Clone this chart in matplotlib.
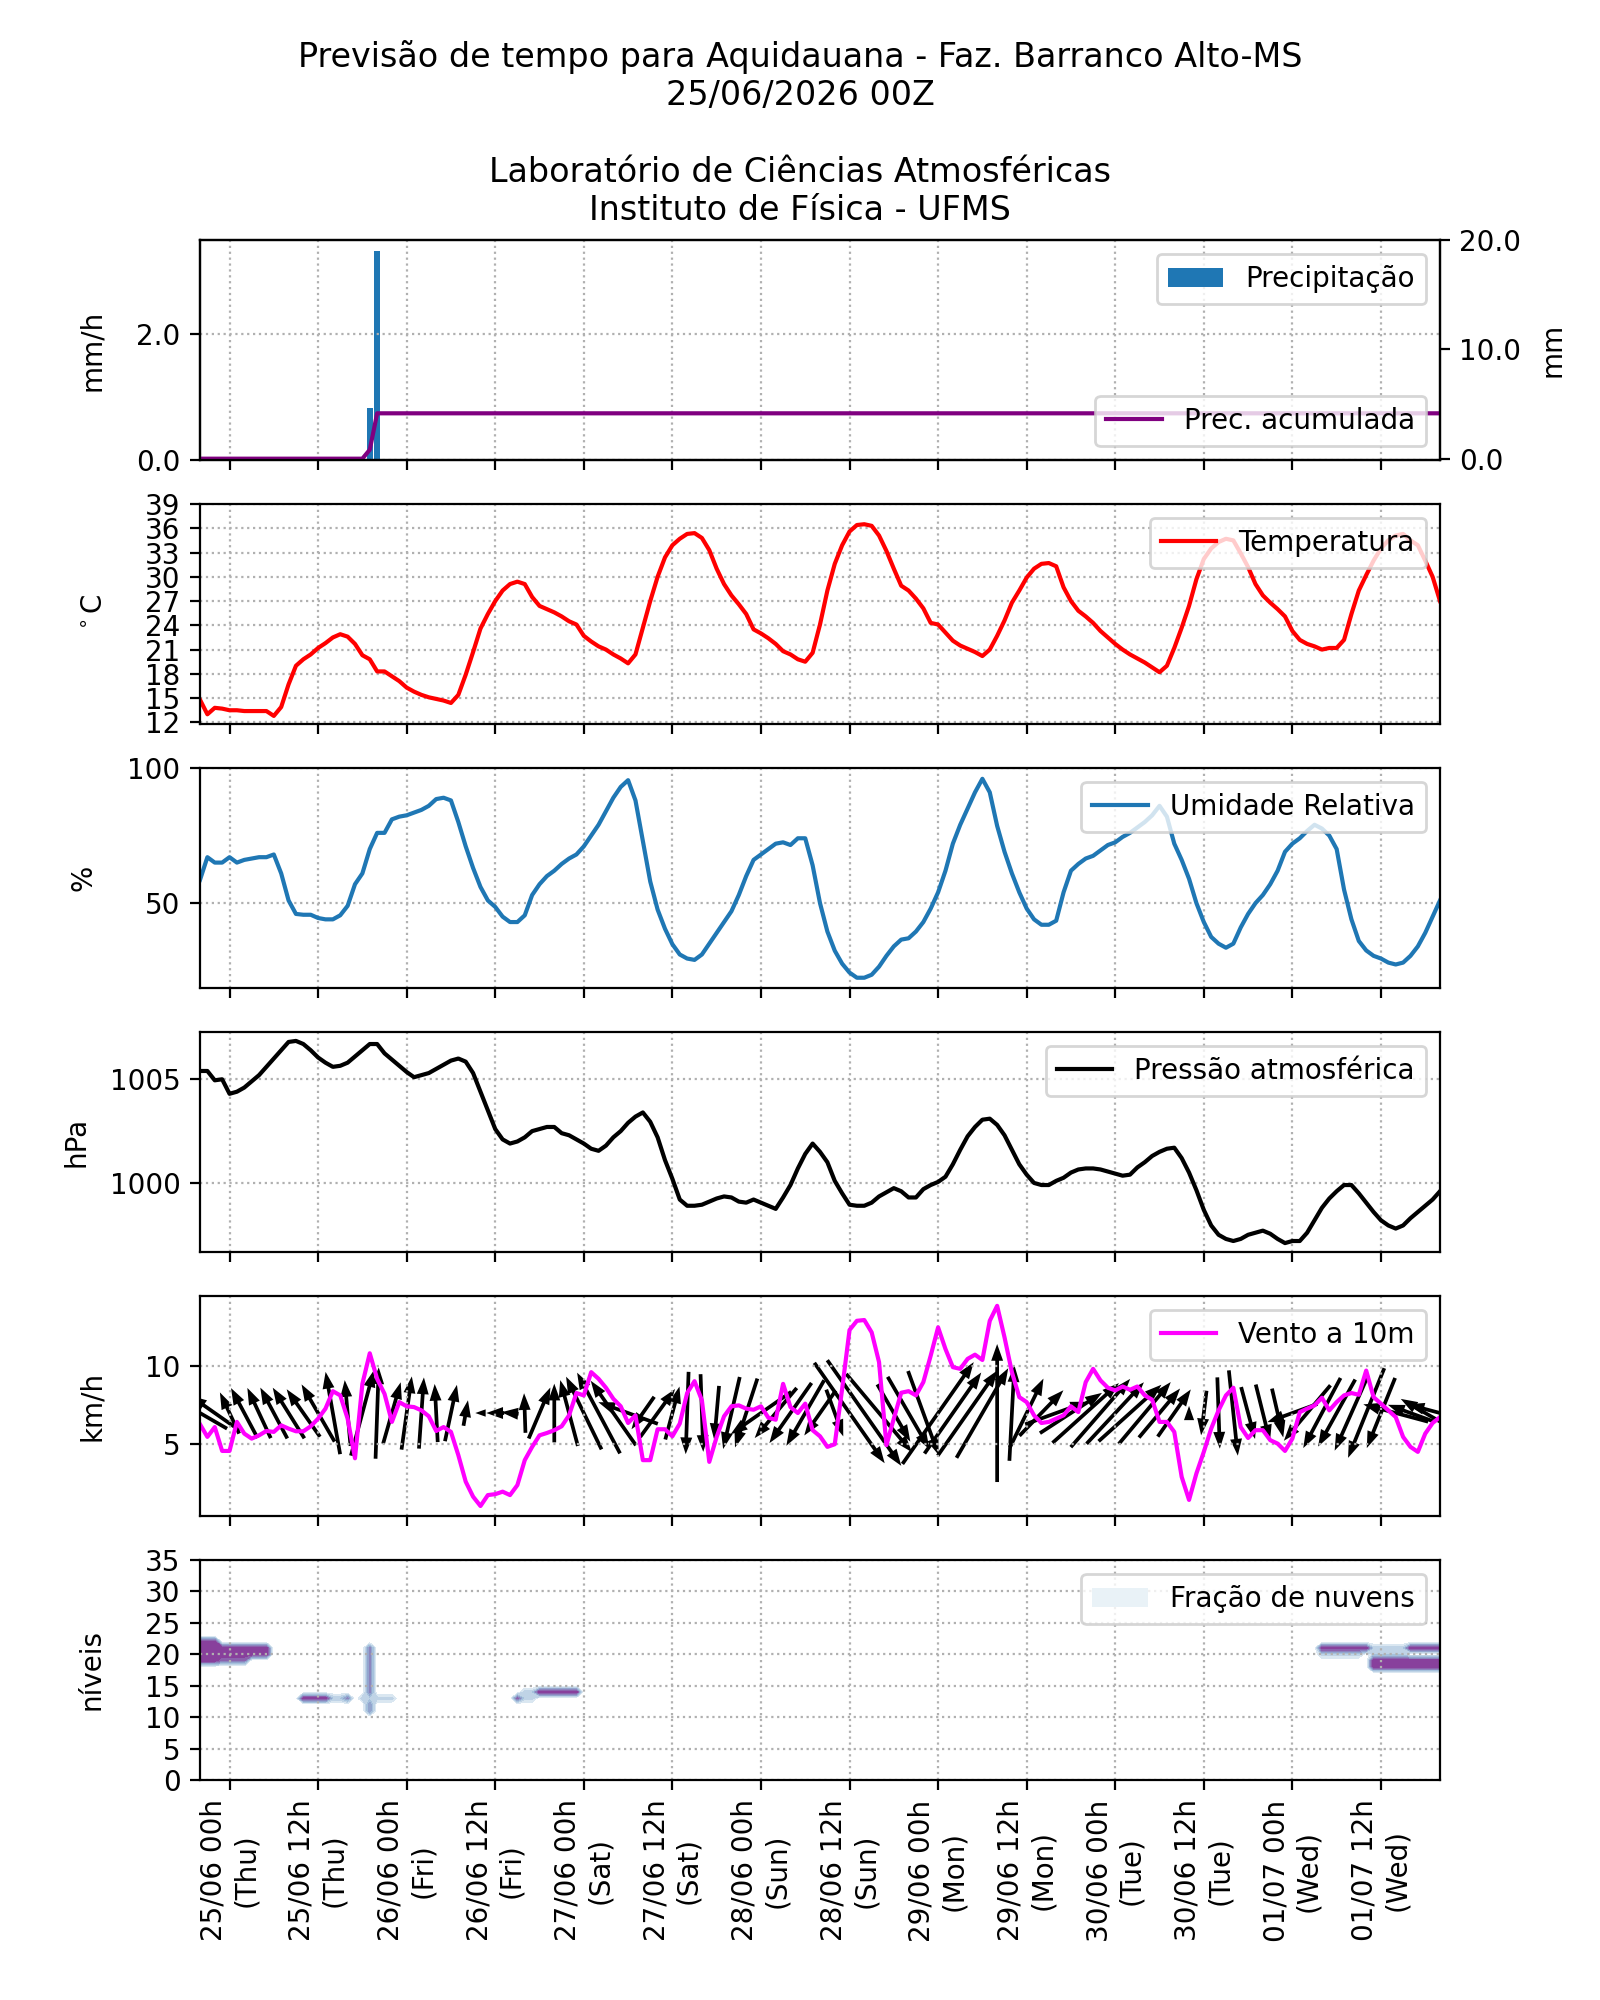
#!/usr/bin/env python3
"""
Meteograma - previsao de tempo para Aquidauana (Faz. Barranco Alto-MS).
Seis paineis: precipitacao, temperatura, umidade, pressao, vento e nuvens.
"""

import numpy as np
import matplotlib
matplotlib.use('Agg')
import matplotlib.pyplot as plt
from matplotlib.patches import Patch
from matplotlib.ticker import MultipleLocator, FormatStrFormatter

# horas desde 25/06 00Z (24/06 20h local)
HOURS = np.arange(169)

TICK_HOURS = np.arange(4, 161, 12)
TICK_LABELS = [
    '25/06 00h\n(Thu)', '25/06 12h\n(Thu)', '26/06 00h\n(Fri)', '26/06 12h\n(Fri)',
    '27/06 00h\n(Sat)', '27/06 12h\n(Sat)', '28/06 00h\n(Sun)', '28/06 12h\n(Sun)',
    '29/06 00h\n(Mon)', '29/06 12h\n(Mon)', '30/06 00h\n(Tue)', '30/06 12h\n(Tue)',
    '01/07 00h\n(Wed)', '01/07 12h\n(Wed)',
]

TITLE = ('Previsão de tempo para Aquidauana - Faz. Barranco Alto-MS\n25/06/2026 00Z\n\n'
         'Laboratório de Ciências Atmosféricas\nInstituto de Física - UFMS')

# precipitacao (mm/h) - apenas duas horas com chuva
RAIN_HOURS = [23, 24]
RAIN_MMH = [0.82, 3.33]

TEMP = [
    14.8, 13.0, 13.8, 13.7, 13.5, 13.5, 13.4, 13.4, 13.4, 13.4, 12.8, 13.9,
    16.7, 19.0, 19.8, 20.4, 21.2, 21.8, 22.5, 22.9, 22.6, 21.7, 20.3, 19.8,
    18.3, 18.3, 17.7, 17.1, 16.3, 15.8, 15.4, 15.1, 14.9, 14.7, 14.4, 15.4,
    17.9, 20.7, 23.6, 25.4, 27.0, 28.3, 29.1, 29.4, 29.1, 27.5, 26.4, 26.0,
    25.6, 25.1, 24.5, 24.1, 22.7, 22.0, 21.4, 21.0, 20.4, 19.9, 19.3, 20.4,
    23.7, 27.0, 30.0, 32.4, 33.9, 34.7, 35.3, 35.4, 34.8, 33.3, 31.0, 29.1,
    27.7, 26.6, 25.4, 23.5, 23.0, 22.4, 21.7, 20.8, 20.4, 19.8, 19.5, 20.6,
    24.1, 28.3, 31.6, 33.9, 35.6, 36.4, 36.5, 36.3, 35.1, 33.2, 31.0, 28.9,
    28.3, 27.3, 26.1, 24.3, 24.1, 23.1, 22.1, 21.5, 21.1, 20.7, 20.2, 21.0,
    22.7, 24.6, 26.8, 28.3, 29.9, 31.0, 31.6, 31.7, 31.3, 28.7, 27.0, 25.8,
    25.1, 24.3, 23.3, 22.5, 21.7, 21.0, 20.4, 19.9, 19.4, 18.8, 18.2, 19.0,
    21.2, 23.7, 26.4, 29.7, 32.2, 33.5, 34.3, 34.7, 34.5, 32.9, 31.2, 29.1,
    27.7, 26.8, 26.0, 25.1, 23.3, 22.2, 21.7, 21.4, 21.0, 21.2, 21.2, 22.2,
    25.4, 28.3, 30.2, 32.0, 33.5, 34.5, 35.1, 35.3, 34.5, 33.9, 32.0, 30.0,
    27.0,
]

RH = [
    58.6, 67, 65, 65, 67, 65, 66, 66.5, 67, 67, 68, 61,
    51, 46, 45.7, 45.7, 44.5, 44, 44, 45.5, 49, 57, 61, 70,
    76, 76, 81, 82, 82.5, 83.5, 84.5, 86, 88.5, 89, 88, 80,
    71, 63, 56, 51, 48.6, 45, 43, 43, 45.5, 53, 57, 60,
    62, 64.5, 66.5, 68, 71, 75, 79, 84, 89, 93, 95.5, 88,
    73, 58, 47.6, 40.5, 34.8, 31, 29.5, 29, 31, 35, 39, 43,
    47, 53, 60, 66, 68, 70, 72, 72.5, 71.5, 74, 74, 64,
    50, 39.5, 32.4, 27.6, 24.3, 22.4, 22.4, 23.5, 26.5, 30.5, 34, 36.5,
    37, 39.5, 43, 48, 54, 62, 72, 79, 85, 91, 96, 91,
    78.6, 69, 61, 54, 48, 44, 42, 42, 43.5, 54, 62, 64.5,
    66.5, 67.5, 69.5, 71.5, 72.5, 74.5, 76, 78, 80, 82.5, 86, 82,
    72, 66, 59, 50, 43, 37.5, 35, 33.5, 35, 41, 46, 50,
    53, 57, 62, 69, 72, 74, 76.7, 79, 77.6, 75, 70, 55,
    44, 36, 32.5, 30.5, 29.5, 28, 27.3, 28, 30.5, 34, 39, 45,
    51,
]

PRES = [
    1005.4, 1005.4, 1004.95, 1005.0, 1004.3, 1004.4, 1004.6, 1004.9, 1005.2, 1005.6, 1006.0, 1006.4,
    1006.8, 1006.85, 1006.7, 1006.4, 1006.05, 1005.8, 1005.6, 1005.65, 1005.8, 1006.1, 1006.4, 1006.7,
    1006.7, 1006.25, 1005.95, 1005.65, 1005.35, 1005.1, 1005.2, 1005.3, 1005.5, 1005.7, 1005.9, 1006.0,
    1005.85, 1005.3, 1004.4, 1003.5, 1002.6, 1002.1, 1001.9, 1002.0, 1002.2, 1002.5, 1002.6, 1002.7,
    1002.7, 1002.4, 1002.3, 1002.1, 1001.9, 1001.65, 1001.55, 1001.8, 1002.2, 1002.5, 1002.9, 1003.2,
    1003.4, 1002.95, 1002.2, 1001.1, 1000.2, 999.2, 998.9, 998.9, 998.95, 999.1, 999.25, 999.35,
    999.3, 999.1, 999.05, 999.2, 999.05, 998.9, 998.75, 999.3, 999.9, 1000.7, 1001.4, 1001.9,
    1001.5, 1001.0, 1000.1, 999.5, 998.95, 998.9, 998.9, 999.05, 999.35, 999.55, 999.75, 999.6,
    999.3, 999.3, 999.7, 999.9, 1000.05, 1000.3, 1000.9, 1001.6, 1002.25, 1002.7, 1003.05, 1003.1,
    1002.8, 1002.3, 1001.6, 1000.9, 1000.4, 1000.0, 999.9, 999.9, 1000.1, 1000.25, 1000.5, 1000.65,
    1000.7, 1000.7, 1000.65, 1000.55, 1000.45, 1000.35, 1000.4, 1000.75, 1001.0, 1001.3, 1001.5, 1001.65,
    1001.7, 1001.2, 1000.5, 999.65, 998.7, 997.95, 997.5, 997.3, 997.2, 997.3, 997.5, 997.6,
    997.7, 997.55, 997.3, 997.1, 997.2, 997.2, 997.6, 998.2, 998.8, 999.25, 999.6, 999.9,
    999.9, 999.5, 999.05, 998.6, 998.2, 997.95, 997.8, 997.95, 998.3, 998.6, 998.9, 999.2,
    999.6,
]

WIND = [
    6.28, 5.47, 6.1, 4.57, 4.57, 6.43, 5.68, 5.36, 5.57, 5.85, 5.79, 6.21,
    6.0, 5.83, 5.83, 6.15, 6.64, 7.28, 8.4, 8.13, 6.64, 4.1, 8.87, 10.83,
    9.19, 8.23, 6.43, 7.7, 7.43, 7.38, 7.17, 6.79, 5.85, 6.1, 5.79, 4.3,
    2.6, 1.64, 1.04, 1.74, 1.8, 1.96, 1.74, 2.38, 3.98, 4.83, 5.57, 5.72,
    5.9, 6.15, 6.85, 8.28, 8.13, 9.62, 9.19, 8.62, 7.91, 7.43, 6.36, 6.85,
    3.98, 3.98, 5.96, 5.96, 5.51, 6.32, 8.28, 9.04, 7.81, 3.87, 5.47, 6.79,
    7.43, 7.49, 7.28, 7.21, 7.43, 6.7, 6.57, 8.87, 7.38, 7.0, 7.6, 5.9,
    5.51, 4.83, 5.0, 8.55, 12.32, 12.91, 12.96, 12.17, 10.26, 4.94, 6.64, 8.3,
    8.4, 8.13, 8.98, 10.68, 12.49, 11.1, 9.94, 9.83, 10.47, 10.74, 10.4, 12.91,
    13.87, 11.85, 9.62, 8.02, 7.7, 6.85, 6.36, 6.43, 6.64, 6.85, 7.43, 7.06,
    8.98, 9.83, 9.09, 8.62, 8.45, 8.7, 8.49, 8.7, 8.13, 7.85, 6.43, 6.43,
    5.79, 2.91, 1.43, 3.13, 4.51, 6.0, 7.17, 8.13, 8.62, 6.1, 5.4, 5.9,
    5.9, 5.26, 5.04, 4.57, 5.36, 7.06, 7.28, 7.49, 7.98, 7.17, 7.7, 8.13,
    8.28, 8.17, 9.72, 8.02, 7.6, 7.17, 6.74, 5.47, 4.83, 4.51, 5.68, 6.36,
    6.74,
]

# direcao para onde aponta a seta (graus, 0 = leste, anti-horario), a cada 2 h
ARROW_DIR = [
    150, 145, 115, 118, 115, 118, 122, 125, 120, 100,
    95, 75, 88, 74, 82, 86, 93, 78, 80, 180,
    180, 175, 92, 67, 90, 105, 116, 118, 125, 160,
    235, 54, 75, 268, 272, 265, 257, 252, 215, 230,
    235, 240, 235, 290, 305, 305, 310, 300, 300, 290,
    55, 55, 55, 60, 90, 87, 64, 46, 20, 33,
    42, 49, 47, 42, 50, 50, 55, 90, 263, 272,
    276, 285, 284, 283, 200, 230, 242, 241, 246, 248,
    248, 165, 160, 150, 165,
]

# fracao de nuvens: (hora ini, hora fim, nivel ini, nivel fim, fracao)
CLOUD_LEVELS = np.arange(36)
CLOUD_PATCHES = [
    (0, 9, 20, 21, 0.78),
    (0, 2, 19, 22, 0.78),
    (3, 6, 19, 19, 0.6),
    (14, 17, 13, 13, 0.78),
    (18, 20, 13, 13, 0.3),
    (20, 20, 13, 13, 0.55),
    (23, 23, 14, 21, 0.55),
    (23, 23, 11, 12, 0.5),
    (22, 26, 13, 13, 0.25),
    (43, 43, 13, 13, 0.65),
    (44, 45, 13, 14, 0.25),
    (46, 51, 14, 14, 0.78),
    (152, 158, 21, 21, 0.78),
    (152, 157, 20, 20, 0.25),
    (159, 168, 18, 19, 0.78),
    (164, 168, 21, 21, 0.78),
    (159, 163, 20, 21, 0.25),
]


def style_axis(ax, ylabel, labelpad):
    ax.set_ylabel(ylabel, labelpad=labelpad)
    ax.grid(True, linestyle=':')
    ax.set_xlim(0, 168)
    ax.set_xticks(TICK_HOURS)


def main():
    fig, axes = plt.subplots(6, 1, figsize=(8, 10), sharex=True)
    fig.suptitle(TITLE)

    # Precipitacao
    precip = np.zeros(len(HOURS))
    precip[RAIN_HOURS] = RAIN_MMH
    ax = axes[0]
    ax.bar(HOURS, precip, width=0.8, color='C0', label='Precipitação')
    ax.set_ylim(0, 3.5)
    ax.yaxis.set_major_locator(MultipleLocator(2))
    ax.yaxis.set_major_formatter(FormatStrFormatter('%.1f'))
    style_axis(ax, 'mm/h', 10.9)
    ax.legend(loc='upper right')
    ax2 = ax.twinx()
    ax2.plot(HOURS, np.cumsum(precip), color='purple', label='Prec. acumulada')
    ax2.set_ylim(-0.12, 20)
    ax2.set_yticks([0, 10, 20])
    ax2.yaxis.set_major_formatter(FormatStrFormatter('%.1f'))
    ax2.set_ylabel('mm', labelpad=6.3)
    ax2.legend(loc='lower right')

    # Temperatura
    ax = axes[1]
    ax.plot(HOURS, TEMP, color='red', label='Temperatura')
    ax.set_ylim(11.8, 39)
    ax.set_yticks(np.arange(12, 40, 3))
    style_axis(ax, r'$^\circ$C', 13.2)
    ax.legend(loc='upper right')

    # Umidade
    ax = axes[2]
    ax.plot(HOURS, RH, color='C0', label='Umidade Relativa')
    ax.set_ylim(18.6, 100)
    ax.set_yticks([50, 100])
    style_axis(ax, '%', 10.6)
    ax.legend(loc='upper right')

    # Pressao
    ax = axes[3]
    ax.plot(HOURS, PRES, color='black', label='Pressão atmosférica')
    ax.set_ylim(996.67, 1007.28)
    ax.set_yticks([1000, 1005])
    style_axis(ax, 'hPa', 6.8)
    ax.legend(loc='upper right')

    # Vento
    ax = axes[4]
    arrow_hours = HOURS[::2]
    speed = np.array(WIND)[::2]
    ang = np.deg2rad(ARROW_DIR)
    ax.quiver(arrow_hours, np.full(len(arrow_hours), 7.0),
              speed * np.cos(ang), speed * np.sin(ang),
              pivot='middle', scale_units='inches', scale=20.1,
              width=0.003, headwidth=3.2, headlength=4.5, color='black')
    ax.plot(HOURS, WIND, color='magenta', label='Vento a 10m')
    ax.set_ylim(0.4, 14.5)
    ax.set_yticks([5, 10])
    style_axis(ax, 'km/h', 14.1)
    ax.legend(loc='upper right')

    # Nuvens
    cloud = np.zeros((len(CLOUD_LEVELS), len(HOURS)))
    for t0, t1, l0, l1, frac in CLOUD_PATCHES:
        block = cloud[l0:l1 + 1, t0:t1 + 1]
        np.maximum(block, frac, out=block)
    ax = axes[5]
    ax.contourf(HOURS, CLOUD_LEVELS, cloud, levels=np.arange(0.1, 1.01, 0.1),
                cmap='BuPu', vmin=0, vmax=1)
    ax.set_ylim(0, 35)
    ax.set_yticks(np.arange(0, 36, 5))
    style_axis(ax, 'níveis', 14.1)
    ax.legend(handles=[Patch(facecolor=plt.cm.BuPu(0.08), label='Fração de nuvens')],
              loc='upper right')
    ax.set_xticklabels(TICK_LABELS, rotation=90)

    plt.savefig('out.png', dpi=200)
    plt.close()


if __name__ == "__main__":
    main()
